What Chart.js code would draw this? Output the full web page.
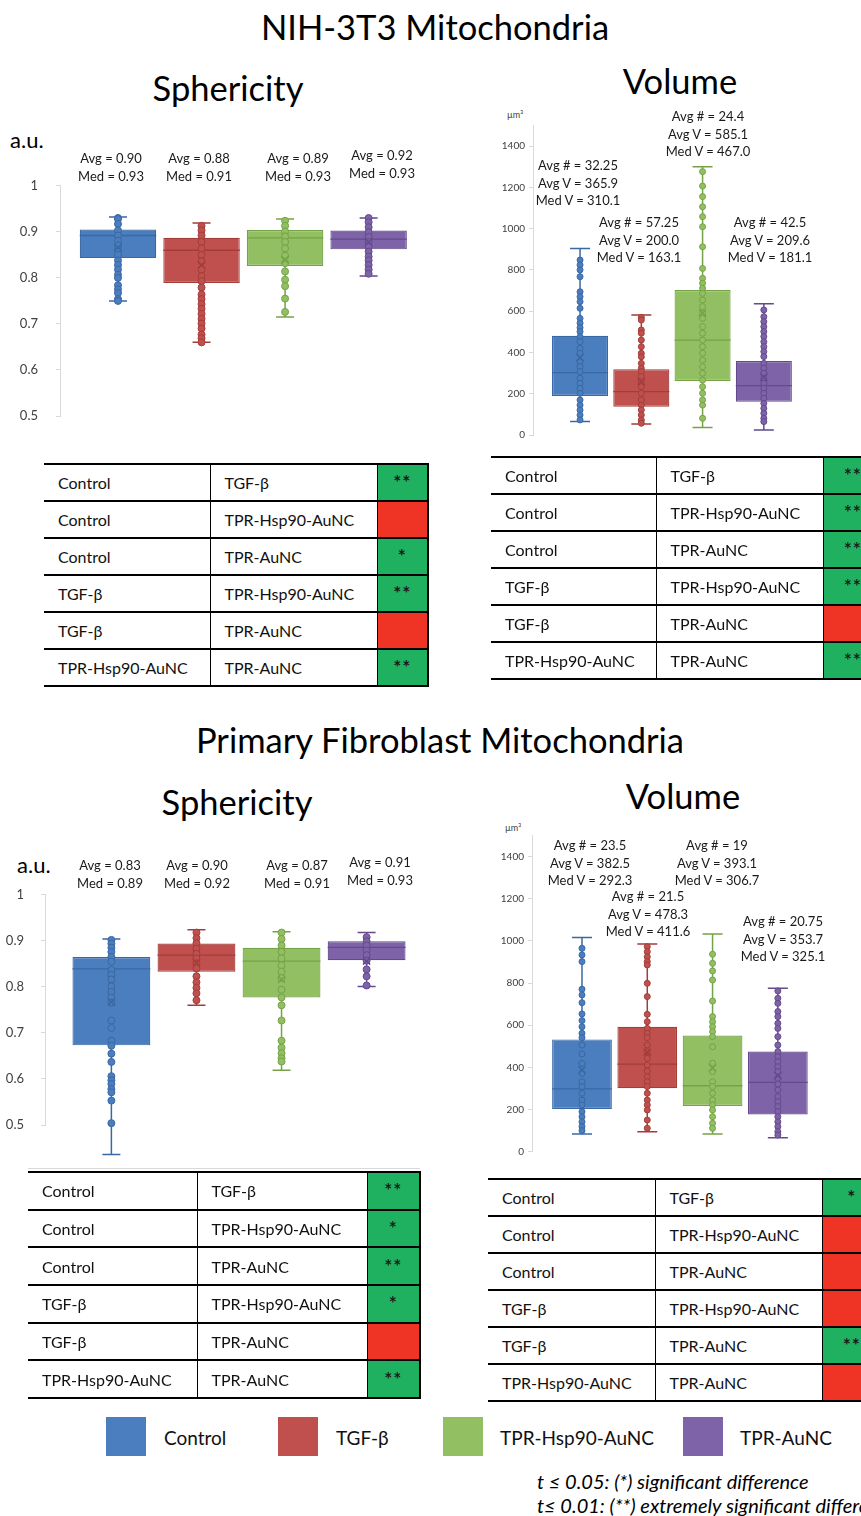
<!DOCTYPE html>
<html><head><meta charset="utf-8">
<script src="https://cdn.jsdelivr.net/npm/chart.js@4.4.0/dist/chart.umd.min.js"></script>
<style>
html,body{margin:0;padding:0;background:#fff;}
body{width:861px;height:1516px;position:relative;overflow:hidden;font-family:Lato,'Noto Sans',sans-serif;color:#000;}
.title{position:absolute;transform:translate(-50%,-50%);white-space:nowrap;font-size:34.5px;line-height:1;}
.note{position:absolute;transform:translateX(-50%);text-align:center;white-space:nowrap;color:#1a1a1a;}
.lbl{position:absolute;white-space:nowrap;line-height:1;transform:translateY(-50%);}
.cw{position:absolute;}
table.sig{position:absolute;border-collapse:collapse;table-layout:fixed;font-size:16px;color:#111;}
table.sig td{border-top:2px solid #000;border-bottom:2px solid #000;padding:0 0 0 14px;white-space:nowrap;overflow:hidden;box-sizing:border-box;}
table.sig td.c1,table.sig td.c2{border-right:1.5px solid #000;}
table.sig td.c3{border-right:2px solid #000;text-align:center;padding:0 0 2px 0;font-size:19px;font-weight:bold;letter-spacing:1px;color:#1a1a1a;vertical-align:middle;}
.sw{position:absolute;width:40px;height:39px;box-sizing:border-box;}
.foot{position:absolute;white-space:nowrap;font-style:italic;font-size:20px;transform:translateY(-50%);line-height:1;}
</style></head>
<body>
<script>
// ---------------- DATA ----------------
const groups = ['Control', 'TGF-β', 'TPR-Hsp90-AuNC', 'TPR-AuNC'];
const sphTicks = [0.5, 0.6, 0.7, 0.8, 0.9, 1];
const volTicks = [0, 200, 400, 600, 800, 1000, 1200, 1400];

// NIH-3T3 sphericity
const nihSphQ1 = [0.843, 0.789, 0.826, 0.862];
const nihSphQ3 = [0.905, 0.887, 0.904, 0.903];
const nihSphMed = [0.892, 0.860, 0.887, 0.884];
const nihSphMin = [0.750, 0.660, 0.715, 0.804];
const nihSphMax = [0.932, 0.919, 0.928, 0.930];
const nihSphMean = [0.866, 0.828, 0.839, 0.878];
const nihSphCtrl = [0.930, 0.928, 0.917, 0.903, 0.892, 0.881, 0.871, 0.860, 0.850, 0.838, 0.828, 0.818, 0.807, 0.800, 0.784, 0.775, 0.767, 0.754, 0.750];
const nihSphTgf = [0.913, 0.903, 0.892, 0.878, 0.864, 0.850, 0.836, 0.818, 0.804, 0.793, 0.779, 0.764, 0.754, 0.743, 0.733, 0.722, 0.711, 0.701, 0.690, 0.677, 0.669, 0.660];
const nihSphHsp = [0.924, 0.913, 0.901, 0.890, 0.878, 0.864, 0.848, 0.832, 0.814, 0.796, 0.782, 0.755, 0.726];
const nihSphTpr = [0.930, 0.921, 0.910, 0.899, 0.889, 0.878, 0.867, 0.857, 0.846, 0.838, 0.828, 0.818, 0.809];
const nihSphNotes = [['Avg = 0.90', 'Med = 0.93'], ['Avg = 0.88', 'Med = 0.91'], ['Avg = 0.89', 'Med = 0.93'], ['Avg = 0.92', 'Med = 0.93']];

// NIH-3T3 volume
const nihVolQ1 = [189, 137, 262, 161];
const nihVolQ3 = [481, 318, 702, 358];
const nihVolMed = [302, 210, 460, 239];
const nihVolMin = [65, 53, 36, 24];
const nihVolMax = [903, 581, 1300, 636];
const nihVolMean = [375, 258, 591, 280];
const nihVolCtrl = [848, 824, 800, 767, 694, 670, 646, 614, 565, 542, 520, 501, 476, 452, 420, 396, 355, 331, 307, 275, 250, 226, 202, 170, 145, 121, 97, 73];
const nihVolTgf = [570, 557, 509, 493, 460, 428, 396, 379, 347, 323, 307, 283, 258, 234, 202, 170, 145, 121, 97, 73, 57];
const nihVolHsp = [1276, 1206, 1155, 1106, 1058, 1009, 912, 807, 759, 735, 711, 686, 654, 622, 589, 565, 525, 493, 460, 428, 396, 363, 331, 299, 266, 234, 202, 170, 145, 81];
const nihVolTpr = [606, 573, 549, 525, 501, 477, 452, 428, 404, 380, 347, 323, 299, 274, 250, 226, 202, 178, 153, 129, 105, 81, 65];
const nihVolNotes = [['Avg # = 32.25', 'Avg V = 365.9', 'Med V = 310.1'], ['Avg # = 57.25', 'Avg V = 200.0', 'Med V = 163.1'], ['Avg # = 24.4', 'Avg V = 585.1', 'Med V = 467.0'], ['Avg # = 42.5', 'Avg V = 209.6', 'Med V = 181.1']];

// Primary fibroblast sphericity
const pfSphQ1 = [0.673, 0.833, 0.777, 0.858];
const pfSphQ3 = [0.865, 0.894, 0.885, 0.899];
const pfSphMed = [0.839, 0.869, 0.856, 0.886];
const pfSphMin = [0.436, 0.760, 0.619, 0.801];
const pfSphMax = [0.904, 0.924, 0.920, 0.918];
const pfSphMean = [0.767, 0.853, 0.816, 0.856];
const pfSphCtrl = [0.902, 0.894, 0.885, 0.876, 0.865, 0.855, 0.837, 0.826, 0.816, 0.801, 0.789, 0.777, 0.766, 0.727, 0.711, 0.683, 0.672, 0.655, 0.637, 0.606, 0.597, 0.589, 0.578, 0.571, 0.553, 0.504, 0.489, 0.479, 0.468, 0.455];
const pfSphTgf = [0.918, 0.906, 0.895, 0.883, 0.872, 0.862, 0.851, 0.840, 0.823, 0.810, 0.798, 0.786, 0.771];
const pfSphHsp = [0.918, 0.904, 0.890, 0.876, 0.862, 0.847, 0.833, 0.819, 0.794, 0.777, 0.760, 0.727, 0.683, 0.668, 0.656, 0.645, 0.638];
const pfSphTpr = [0.908, 0.899, 0.890, 0.879, 0.869, 0.857, 0.838, 0.823, 0.803];
const pfSphNotes = [['Avg = 0.83', 'Med = 0.89'], ['Avg = 0.90', 'Med = 0.92'], ['Avg = 0.87', 'Med = 0.91'], ['Avg = 0.91', 'Med = 0.93']];

// Primary fibroblast volume
const pfVolQ1 = [203, 301, 217, 177];
const pfVolQ3 = [533, 593, 551, 475];
const pfVolMed = [298, 416, 313, 329];
const pfVolMin = [84, 95, 84, 66];
const pfVolMax = [1016, 986, 1033, 776];
const pfVolMean = [388, 472, 397, 361];
const pfVolCtrl = [965, 934, 902, 771, 744, 707, 654, 622, 593, 562, 541, 506, 464, 419, 372, 332, 309, 277, 245, 222, 190, 166, 142, 119, 100];
const pfVolTgf = [973, 949, 925, 902, 886, 799, 736, 652, 617, 585, 562, 541, 506, 475, 443, 411, 383, 356, 332, 309, 277, 245, 222, 198, 150, 111];
const pfVolHsp = [937, 894, 858, 815, 715, 641, 617, 593, 570, 546, 498, 420, 380, 332, 309, 277, 245, 222, 198, 166, 135, 111];
const pfVolTpr = [763, 728, 704, 665, 641, 609, 585, 546, 506, 475, 451, 427, 403, 380, 348, 320, 293, 261, 237, 214, 190, 166, 142, 119, 95, 79];
const pfVolNotes = [['Avg # = 23.5', 'Avg V = 382.5', 'Med V = 292.3'], ['Avg # = 21.5', 'Avg V = 478.3', 'Med V = 411.6'], ['Avg # = 19', 'Avg V = 393.1', 'Med V = 306.7'], ['Avg # = 20.75', 'Avg V = 353.7', 'Med V = 325.1']];

// Significance tables
const pairA = ['Control', 'Control', 'Control', 'TGF-β', 'TGF-β', 'TPR-Hsp90-AuNC'];
const pairB = ['TGF-β', 'TPR-Hsp90-AuNC', 'TPR-AuNC', 'TPR-Hsp90-AuNC', 'TPR-AuNC', 'TPR-AuNC'];
const nihSphSig = ['**', '', '*', '**', '', '**'];
const nihVolSig = ['**', '**', '**', '**', '', '**'];
const pfSphSig = ['**', '*', '**', '*', '', '**'];
const pfVolSig = ['*', '', '', '', '**', ''];

// ---------------- STYLE ----------------
const FILL = ['#4a7ebf', '#c0504d', '#93bf63', '#7f63a8'];
const EDGE = ['#3a68a3', '#a23d3a', '#75a247', '#634a8c'];
const SIG_GREEN = '#1fb060', SIG_RED = '#ef3426';

function el(tag, cls, css, text) {
  const e = document.createElement(tag);
  if (cls) e.className = cls;
  if (css) Object.assign(e.style, css);
  if (text !== undefined) e.textContent = text;
  document.body.appendChild(e);
  return e;
}

function makeBoxChart(p) {
  const wrap = el('div', 'cw', {left: p.left + 'px', top: p.top + 'px', width: p.w + 'px', height: p.h + 'px'});
  const cv = document.createElement('canvas');
  cv.width = p.w; cv.height = p.h;
  cv.style.width = p.w + 'px'; cv.style.height = p.h + 'px';
  wrap.appendChild(cv);
  const xs = groups.map((_, i) => i + 1);
  const datasets = [{
    type: 'bar',
    data: xs.map((x, i) => ({x: x, y: [p.q1[i], p.q3[i]]})),
    backgroundColor: FILL, borderColor: EDGE, borderWidth: 1.2, borderSkipped: false,
    barPercentage: 0.915, categoryPercentage: 1, order: 3
  }];
  p.pts.forEach((arr, i) => datasets.push({
    type: 'scatter', data: arr.map(v => ({x: i + 1, y: v})),
    pointRadius: p.r, pointBackgroundColor: FILL[i], pointBorderColor: EDGE[i], pointBorderWidth: 1,
    clip: false, order: 2
  }));
  datasets.push({
    type: 'scatter', data: p.mean.map((v, i) => ({x: i + 1, y: v})),
    pointStyle: 'crossRot', pointRadius: 5, pointBorderColor: EDGE, pointBackgroundColor: EDGE,
    pointBorderWidth: 1.5, clip: false, order: 1
  });
  const boxPlugin = {
    id: 'boxWhisk',
    beforeDatasetsDraw(chart) {
      const ctx = chart.ctx, xS = chart.scales.x, yS = chart.scales.y;
      ctx.save();
      ctx.lineWidth = 1.5;
      xs.forEach((x, i) => {
        const px = xS.getPixelForValue(x);
        const yTop = yS.getPixelForValue(p.max[i]), yBot = yS.getPixelForValue(p.min[i]);
        ctx.strokeStyle = EDGE[i];
        ctx.beginPath();
        ctx.moveTo(px, yTop); ctx.lineTo(px, yBot);
        ctx.moveTo(px - p.cap, yTop); ctx.lineTo(px + p.cap, yTop);
        ctx.moveTo(px - p.cap, yBot); ctx.lineTo(px + p.cap, yBot);
        ctx.stroke();
      });
      ctx.restore();
    },
    afterDatasetDraw(chart, args) {
      if (args.index !== 0) return;
      const ctx = chart.ctx, yS = chart.scales.y;
      const meta = chart.getDatasetMeta(0);
      ctx.save();
      ctx.lineWidth = 1.3;
      meta.data.forEach((bar, i) => {
        const py = yS.getPixelForValue(p.med[i]);
        ctx.strokeStyle = EDGE[i];
        ctx.beginPath();
        ctx.moveTo(bar.x - bar.width / 2, py); ctx.lineTo(bar.x + bar.width / 2, py);
        ctx.stroke();
      });
      ctx.restore();
    }
  };
  new Chart(cv, {
    type: 'bar',
    data: {datasets: datasets},
    plugins: [boxPlugin],
    options: {
      responsive: false, animation: false, events: [],
      layout: {padding: {top: p.padTop, bottom: p.padBot, left: 0, right: 0}},
      plugins: {legend: {display: false}, tooltip: {enabled: false}},
      scales: {
        x: {type: 'linear', display: false, offset: false, grid: {offset: false}, min: p.xMin, max: p.xMax,
            afterBuildTicks: s => { s.ticks = xs.map(v => ({value: v})); }},
        y: {type: 'linear', min: p.yMin, max: p.yMax,
            afterBuildTicks: s => { s.ticks = p.ticks.map(v => ({value: v})); },
            afterFit: s => { s.width = p.axW; },
            border: {color: '#d9d9d9', width: 1},
            grid: {drawOnChartArea: false, color: '#d9d9d9', tickLength: 4},
            ticks: {padding: p.tickPad, color: '#404040', font: {family: 'Lato', size: p.fs}, callback: v => String(v)}}
      }
    }
  });
  p.notes.forEach((lines, i) => {
    const n = el('div', 'note', {left: p.noteX[i] + 'px', top: (p.noteY[i] - p.lh / 2) + 'px', fontSize: p.nfs + 'px', lineHeight: p.lh + 'px'});
    n.innerHTML = lines.join('<br>');
  });
}

function makeTable(left, top, widths, rowH, sig) {
  const t = document.createElement('table');
  t.className = 'sig';
  Object.assign(t.style, {left: left + 'px', top: top + 'px', width: widths.reduce((a, b) => a + b, 0) + 'px'});
  const cg = document.createElement('colgroup');
  widths.forEach(w => { const c = document.createElement('col'); c.style.width = w + 'px'; cg.appendChild(c); });
  t.appendChild(cg);
  pairA.forEach((a, i) => {
    const tr = document.createElement('tr');
    tr.style.height = rowH + 'px';
    const c1 = document.createElement('td'); c1.className = 'c1'; c1.textContent = a;
    const c2 = document.createElement('td'); c2.className = 'c2'; c2.textContent = pairB[i];
    const c3 = document.createElement('td'); c3.className = 'c3'; c3.textContent = sig[i];
    c3.style.background = sig[i] ? SIG_GREEN : SIG_RED;
    tr.appendChild(c1); tr.appendChild(c2); tr.appendChild(c3);
    t.appendChild(tr);
  });
  document.body.appendChild(t);
}

// ---------------- LAYOUT ----------------
el('div', 'title', {left: '435px', top: '27px'}, 'NIH-3T3 Mitochondria');
el('div', 'title', {left: '228px', top: '88px'}, 'Sphericity');
el('div', 'title', {left: '680px', top: '81px'}, 'Volume');
el('div', 'title', {left: '440px', top: '740px'}, 'Primary Fibroblast Mitochondria');
el('div', 'title', {left: '237px', top: '802px'}, 'Sphericity');
el('div', 'title', {left: '683px', top: '796px'}, 'Volume');

el('div', 'lbl', {left: '10px', top: '140px', fontSize: '22px'}, 'a.u.');
el('div', 'lbl', {left: '17px', top: '865px', fontSize: '22px'}, 'a.u.');
el('div', 'lbl', {left: '507px', top: '114px', fontSize: '9px', color: '#404040'}, 'µm³');
el('div', 'lbl', {left: '505px', top: '827px', fontSize: '9px', color: '#404040'}, 'µm³');

makeBoxChart({left: 0, top: 160, w: 440, h: 300, axW: 60, padTop: 21, padBot: 44,
  xMin: 1 - 59 / 85, xMax: 1 - 59 / 85 + 380 / 85, yMin: 0.5, yMax: 1, ticks: sphTicks, tickPad: 18, fs: 13,
  q1: nihSphQ1, q3: nihSphQ3, med: nihSphMed, min: nihSphMin, max: nihSphMax, mean: nihSphMean,
  pts: [nihSphCtrl, nihSphTgf, nihSphHsp, nihSphTpr], r: 3.5, cap: 9,
  notes: nihSphNotes, noteX: [111, 199, 298, 382], noteY: [158, 158, 158, 155], nfs: 13, lh: 18});

makeBoxChart({left: 460, top: 100, w: 401, h: 360, axW: 73, padTop: 25.4, padBot: 25,
  xMin: 1 - 48 / 62.5, xMax: 1 - 48 / 62.5 + 328 / 62.5, yMin: 0, yMax: 1500, ticks: volTicks, tickPad: 4, fs: 10,
  q1: nihVolQ1, q3: nihVolQ3, med: nihVolMed, min: nihVolMin, max: nihVolMax, mean: nihVolMean,
  pts: [nihVolCtrl, nihVolTgf, nihVolHsp, nihVolTpr], r: 3, cap: 10,
  notes: nihVolNotes, noteX: [578, 639, 708, 770], noteY: [166, 223, 117, 223], nfs: 13, lh: 17.5});

makeBoxChart({left: 0, top: 870, w: 440, h: 300, axW: 45, padTop: 20, padBot: 45,
  xMin: 1 - 67.5 / 86.5, xMax: 1 - 67.5 / 86.5 + 395 / 86.5, yMin: 0.5, yMax: 1, ticks: sphTicks, tickPad: 17, fs: 13,
  q1: pfSphQ1, q3: pfSphQ3, med: pfSphMed, min: pfSphMin, max: pfSphMax, mean: pfSphMean,
  pts: [pfSphCtrl, pfSphTgf, pfSphHsp, pfSphTpr], r: 3.5, cap: 9,
  notes: pfSphNotes, noteX: [110, 197, 297, 380], noteY: [865, 865, 865, 862], nfs: 13, lh: 18});

makeBoxChart({left: 460, top: 810, w: 401, h: 360, axW: 72, padTop: 25.6, padBot: 18.3,
  xMin: 1 - 51 / 66.6, xMax: 1 - 51 / 66.6 + 329 / 66.6, yMin: 0, yMax: 1500, ticks: volTicks, tickPad: 4, fs: 10,
  q1: pfVolQ1, q3: pfVolQ3, med: pfVolMed, min: pfVolMin, max: pfVolMax, mean: pfVolMean,
  pts: [pfVolCtrl, pfVolTgf, pfVolHsp, pfVolTpr], r: 3, cap: 10,
  notes: pfVolNotes, noteX: [590, 648, 717, 783], noteY: [846, 897, 846, 922], nfs: 13, lh: 17.5});

el('div', '', {position: 'absolute', left: '28px', top: '1168px', width: '392px', height: '0', borderTop: '1px solid #d9d9d9'});

makeTable(44, 463, [166, 167, 51], 37, nihSphSig);
makeTable(491, 456, [165, 167, 60], 37, nihVolSig);
makeTable(28, 1171, [169, 170, 53], 37.7, pfSphSig);
makeTable(488, 1178, [167, 167, 60], 37, pfVolSig);

// legend
const swX = [106, 278, 443, 683];
const lbX = [164, 336, 500, 740];
groups.forEach((g, i) => {
  el('div', 'sw', {left: swX[i] + 'px', top: '1417px', background: FILL[i], border: '1px solid ' + FILL[i]});
  el('div', 'lbl', {left: lbX[i] + 'px', top: '1437px', fontSize: '19px', color: '#111'}, g);
});
el('div', 'foot', {left: '537px', top: '1481px'}, 't ≤ 0.05: (*) significant difference');
el('div', 'foot', {left: '537px', top: '1505px'}, 't≤ 0.01: (**) extremely significant difference');
</script>
</body></html>
